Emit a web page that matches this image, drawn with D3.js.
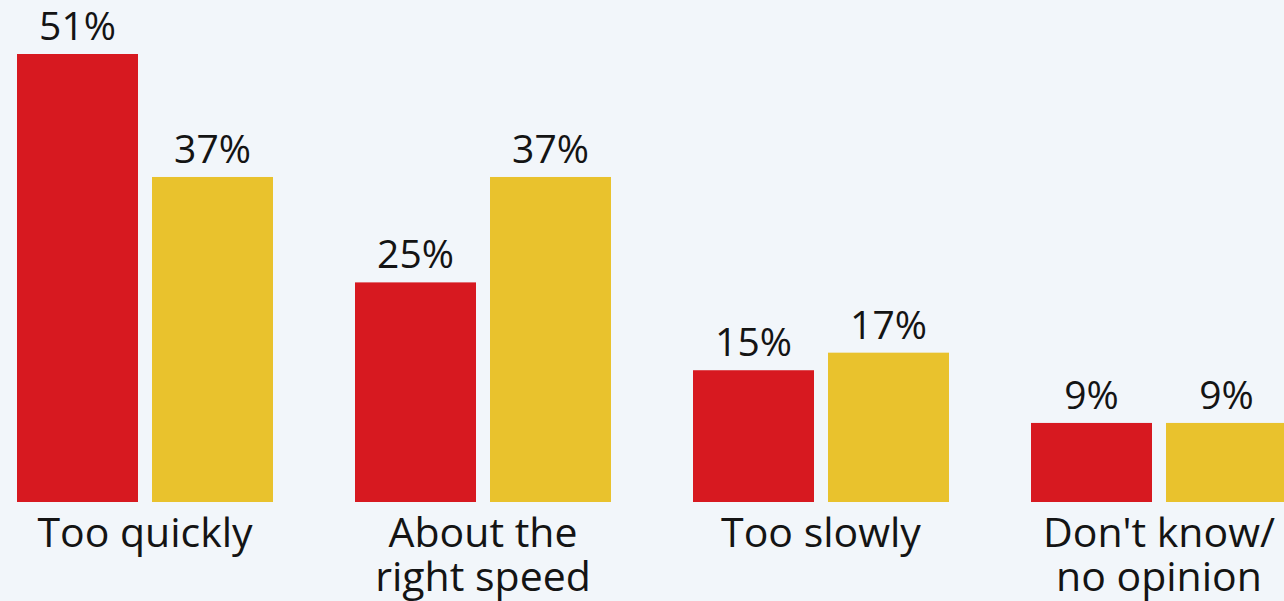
<!DOCTYPE html>
<html>
<head>
<meta charset="utf-8">
<script src="https://cdn.jsdelivr.net/npm/d3@7"></script>
<style>
  html, body { margin: 0; padding: 0; background: #f2f6fa; }
  svg { display: block; }
  text { font-family: "Open Sans", "Noto Sans", sans-serif; font-weight: 400; fill: #141414; }
</style>
</head>
<body>
<svg id="chart" width="1284" height="601"></svg>
<script>
// Answer categories (label lines) and the two survey series, in percent
const categories = ["Too quickly", "About the right speed", "Too slowly", "Don't know/ no opinion"];
const categoryLines = [["Too quickly"], ["About the", "right speed"], ["Too slowly"], ["Don't know/", "no opinion"]];
const seriesA = [51, 25, 15, 9];
const seriesB = [37, 37, 17, 9];
const seriesColors = ["#d71920", "#e9c22d"];

const baseY = 502;
const svg = d3.select("#chart");

const x = d3.scaleBand()
  .domain(categories)
  .range([-24, 1328])
  .paddingInner(82 / 338)
  .paddingOuter(41 / 338);

const xs = d3.scaleBand()
  .domain([0, 1])
  .range([0, x.bandwidth()])
  .paddingInner(14 / 135);

const y = d3.scaleLinear().domain([0, 51]).range([baseY, 54]);

const rows = categories.map((c, i) => ({ cat: c, lines: categoryLines[i], vals: [seriesA[i], seriesB[i]] }));

const g = svg.selectAll("g.group").data(rows).join("g")
  .attr("class", "group")
  .attr("transform", d => `translate(${x(d.cat)},0)`);

g.selectAll("rect").data(d => d.vals.map((v, k) => ({ v, k }))).join("rect")
  .attr("x", d => xs(d.k))
  .attr("y", d => y(d.v))
  .attr("width", xs.bandwidth())
  .attr("height", d => baseY - y(d.v))
  .attr("fill", d => seriesColors[d.k]);

g.selectAll("text.val").data(d => d.vals.map((v, k) => ({ v, k }))).join("text")
  .attr("class", "val")
  .attr("x", d => xs(d.k) + xs.bandwidth() / 2)
  .attr("y", d => y(d.v) - 14)
  .attr("text-anchor", "middle")
  .attr("font-size", 39)
  .text(d => d.v + "%");

g.append("text")
  .attr("class", "cat")
  .attr("text-anchor", "middle")
  .attr("font-size", 41)
  .selectAll("tspan").data(d => d.lines).join("tspan")
  .attr("x", x.bandwidth() / 2)
  .attr("y", (d, i) => 547 + i * 44)
  .text(d => d);
</script>
</body>
</html>
